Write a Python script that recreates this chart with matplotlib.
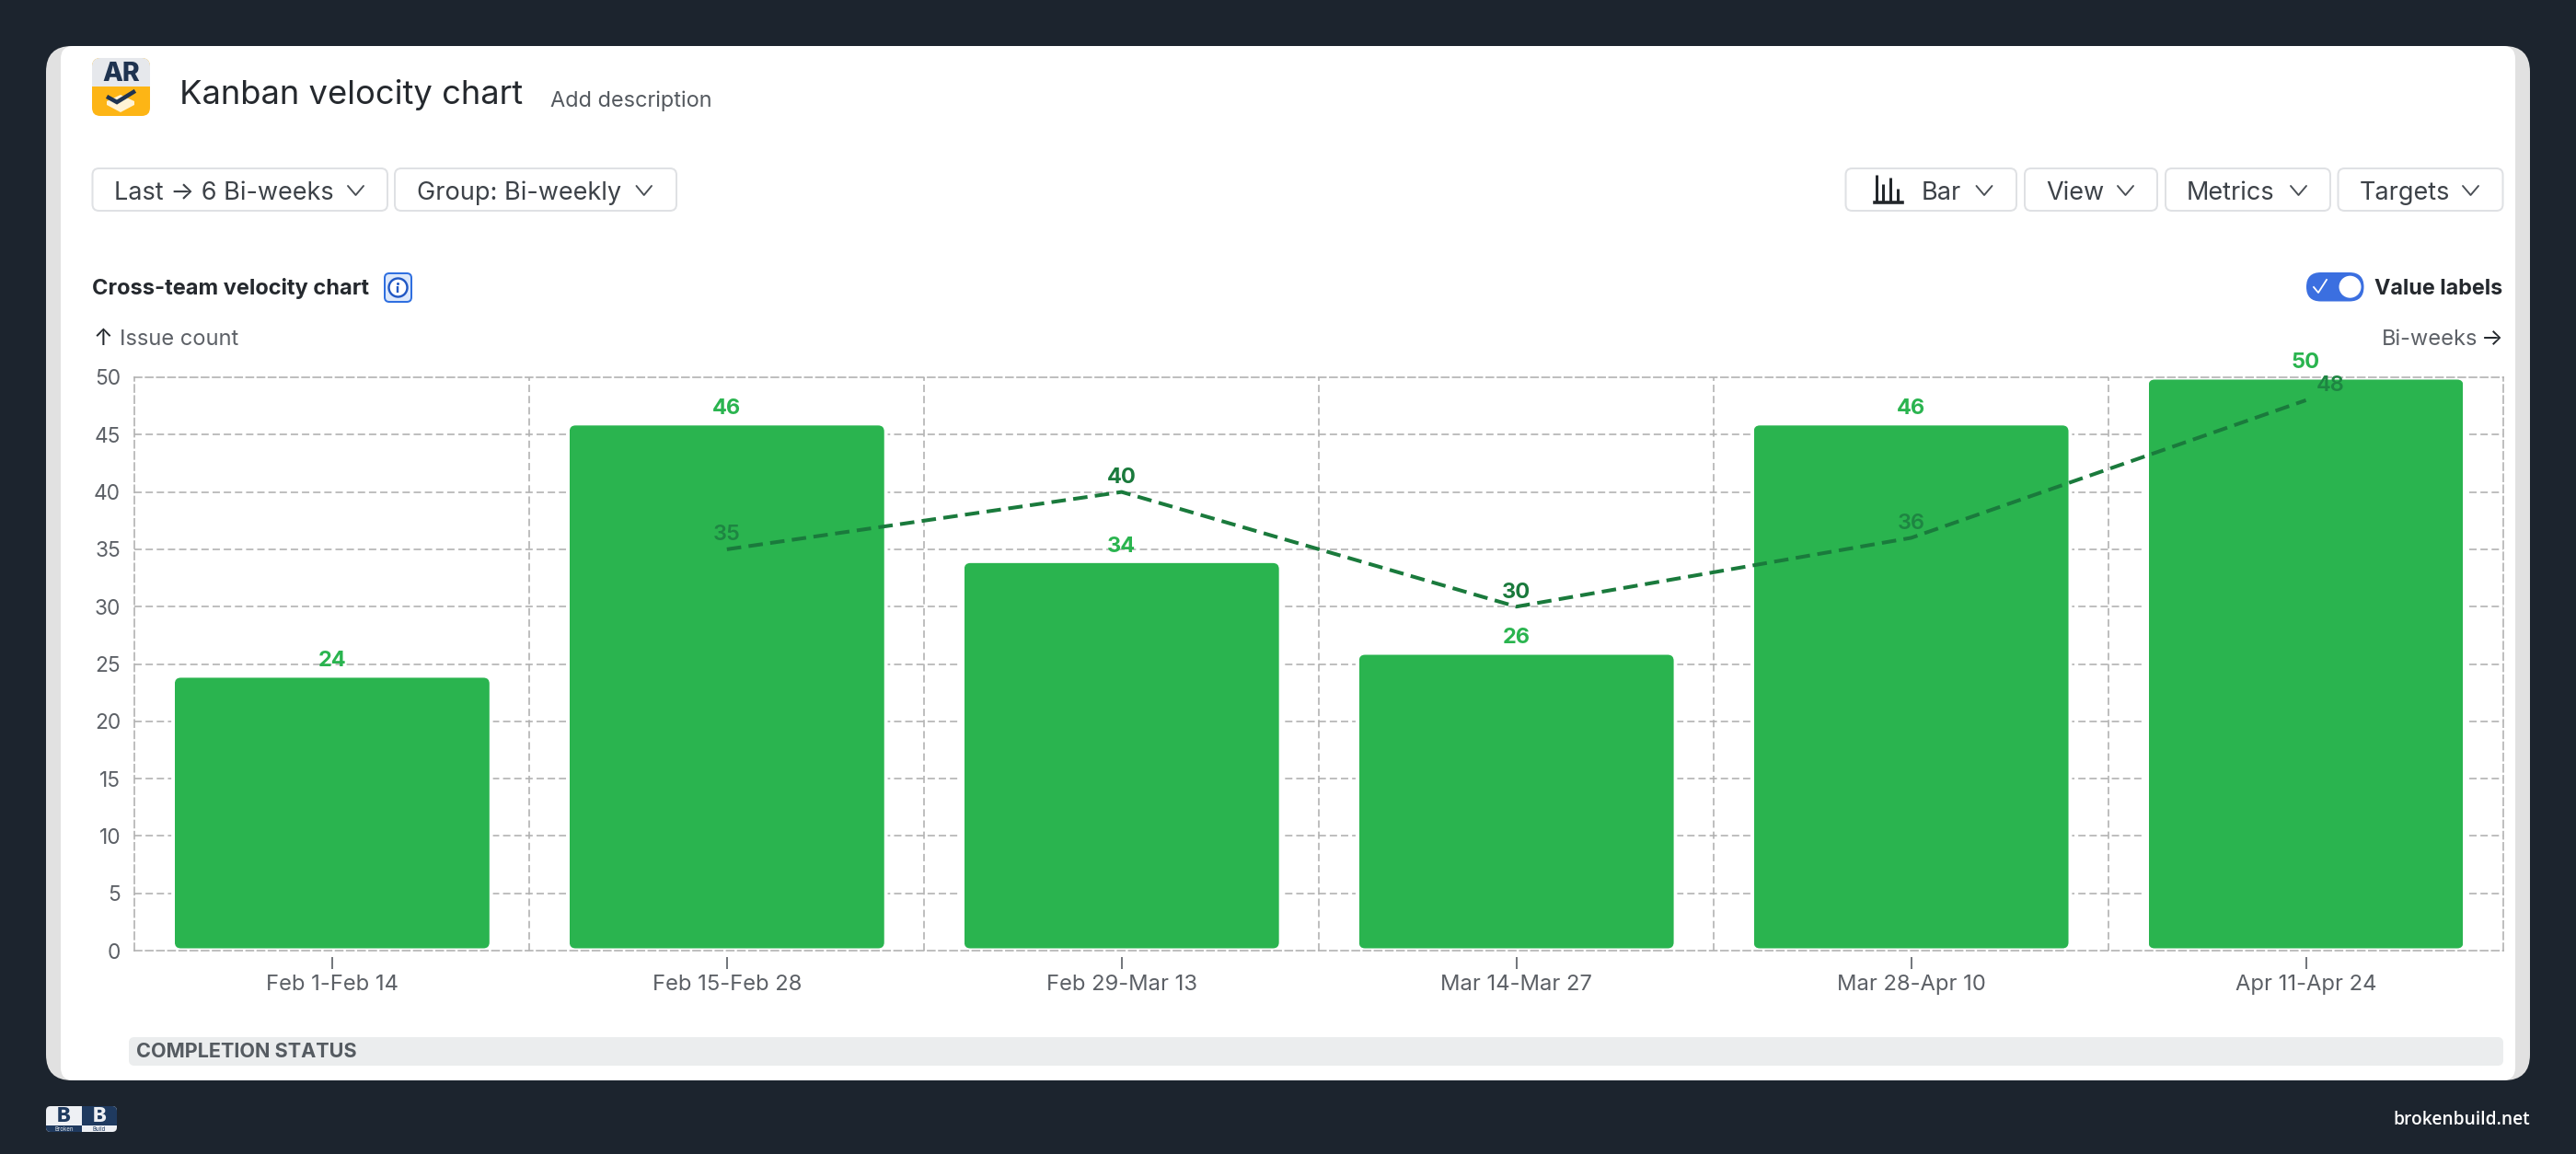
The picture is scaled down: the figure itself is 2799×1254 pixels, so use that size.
import numpy as np
import matplotlib
matplotlib.use("Agg")
import matplotlib.pyplot as plt
from matplotlib.patches import FancyBboxPatch, Rectangle, Circle, Polygon
from matplotlib.path import Path

plt.rcParams['font.family'] = ['Inter', 'DejaVu Sans']

# ---- data ----
categories = ["Feb 1-Feb 14", "Feb 15-Feb 28", "Feb 29-Mar 13", "Mar 14-Mar 27", "Mar 28-Apr 10", "Apr 11-Apr 24"]
completed = [24, 46, 34, 26, 46, 50]
trend = [np.nan, 35, 40, 30, 36, 48]
y_ticks = [0, 5, 10, 15, 20, 25, 30, 35, 40, 45, 50]

title = "Kanban velocity chart"
description = "Add description"
chart_title = "Cross-team velocity chart"
y_axis_name = "Issue count"
x_axis_name = "Bi-weeks"
toggle_label = "Value labels"
section_label = "COMPLETION STATUS"
site = "brokenbuild.net"
left_buttons = ["Last → 6 Bi-weeks", "Group: Bi-weekly"]
right_buttons = ["Bar", "View", "Metrics", "Targets"]

# ---- colours ----
BG = "#1c242e"; GREEN = "#2ab44f"; DARK = "#1a7a3c"; GRID = "#b0b0b0"
TXT = "#3d4248"; MUTED = "#5c6066"; NAVY = "#1f3350"

W, H = 2799, 1254
PT = 72 / 100  # points per pixel
fig = plt.figure(figsize=(W / 100, H / 100), dpi=100, facecolor=BG)

# ---- page furniture, in pixel coordinates ----
ui = fig.add_axes([0, 0, 1, 1], zorder=0)
ui.set_xlim(0, W); ui.set_ylim(H, 0); ui.axis("off")

def rbox(x0, y0, x1, y1, r, fc, ec="none", lw=0, z=1):
    p = FancyBboxPatch((x0, y0), x1 - x0, y1 - y0, boxstyle=f"round,pad=0,rounding_size={r}",
                       fc=fc, ec=ec, lw=lw * PT, zorder=z)
    ui.add_patch(p)
    return p

def txt(x, y, s, size, color=TXT, weight="normal", ha="left", family=None, z=5):
    return ui.text(x, y, s, fontsize=size, color=color, fontweight=weight, ha=ha, va="baseline",
                   family=family if family else ['Inter', 'DejaVu Sans'], zorder=z)

def chevron(x0, x1, yc=207, color="#4a4f55"):
    ui.plot([x0 + 1, (x0 + x1) / 2, x1 - 1], [yc - 5, yc + 5, yc - 5], color=color, lw=1.9 * PT, zorder=5,
            solid_capstyle="round")

rbox(50, 50, 2749, 1174, 28, "#e1e1e1")
rbox(66, 50, 2733, 1174, 14, "#ffffff", z=1.5)
ui.add_patch(Rectangle((100, 50), 2600, 60, fc="white", ec="none", zorder=1.6))

# product logo
logo = rbox(100, 63, 163, 126, 9, "#fdb515", z=2)
top = Rectangle((100, 63), 63, 31, fc="#e6e8ec", ec="none", zorder=2.1)
ui.add_patch(top); top.set_clip_path(logo)
txt(131.5, 88, "AR", 20.5, NAVY, "heavy", "center")
ui.add_patch(Polygon([(116, 110), (131, 103), (146, 110), (146, 114), (131, 122), (116, 114)],
                     fc="#fff3d6", ec="none", zorder=3))
ui.plot([118, 127, 145], [106, 111, 100], color=NAVY, lw=4.5 * PT, zorder=4, solid_joinstyle="miter")

txt(195, 113, title, 26.2, "#25292e")
txt(598, 116, description, 16.9, "#54595f")

# toolbar
for (x0, x1), label, tx, ch in zip([(100.5, 421), (429, 735)], left_buttons, [124.5, 453.5], [(377, 396), (690.5, 709)]):
    rbox(x0, 183, x1, 229, 7, "white", "#dfe1e4", 2, z=2)
    txt(tx, 217, label, 19.5)
    chevron(*ch)
for (x0, x1), label, tx, ch in zip([(2005.5, 2191), (2200, 2344), (2353, 2532), (2540.5, 2719.5)], right_buttons,
                                   [2088, 2223, 2376, 2564],
                                   [(2146.5, 2165.5), (2300, 2319), (2488, 2507), (2675, 2694)]):
    rbox(x0, 183, x1, 229, 7, "white", "#dfe1e4", 2, z=2)
    txt(tx, 217, label, 19.5)
    chevron(*ch)
# bar-type icon
for ix, iy in zip([2039, 2046, 2054, 2062], [190, 200, 193, 205]):
    ui.plot([ix, ix], [iy, 220], color="#23272b", lw=3 * PT, zorder=5, solid_capstyle="butt")
ui.plot([2037, 2067], [220, 220], color="#23272b", lw=3.6 * PT, zorder=5)

# chart heading
txt(100, 320, chart_title, 17, "#25292e", "bold")
rbox(418, 297, 447, 328, 5, "#dce8fb", "#2f6fe0", 2, z=2)
ui.add_patch(Circle((432.5, 312.5), 10, fc="white", ec="#2158c4", lw=2.4 * PT, zorder=3))
ui.plot([432.5, 432.5], [311, 318], color="#2158c4", lw=2.4 * PT, zorder=4, solid_capstyle="butt")
ui.plot([432.5], [307.5], "o", color="#2158c4", ms=2.2, mew=0, zorder=4)

# toggle
rbox(2506, 296, 2568.5, 327.5, 15.7, "#3b6fe0", z=2)
ui.add_patch(Circle((2553.5, 311.7), 12, fc="white", ec="none", zorder=3))
ui.plot([2514, 2519, 2528], [312, 318, 304], color="white", lw=1.8 * PT, zorder=3)
txt(2719.5, 320, toggle_label, 16.8, "#25292e", "bold", "right")

txt(102, 375, "↑", 18, "#25292e")
txt(130, 375, y_axis_name, 17, MUTED)
txt(2719.5, 375, "→", 18, "#25292e", ha="right")
txt(2692, 375, x_axis_name, 17, MUTED, ha="right")

# section header below the chart
rbox(140, 1127, 2720, 1158, 6, "#ebedee", z=2)
txt(148, 1149, section_label, 15.6, "#555b61", "bold")

# footer
brand = rbox(50, 1202, 127, 1230, 5, "#eef0f4", z=2)
for x, y, w, h in [(88.7, 1202, 39, 21), (50, 1222.5, 38.7, 8)]:
    r = Rectangle((x, y), w, h, fc="#1f3a5f", ec="none", zorder=2.1)
    ui.add_patch(r); r.set_clip_path(brand)
txt(69.5, 1219, "B", 16, "#1f3a5f", "heavy", "center")
txt(108, 1219, "B", 16, "#eef0f4", "heavy", "center")
txt(69.5, 1229, "Broken", 4.4, "#dfe4ea", ha="center")
txt(108, 1229, "Build", 4.4, "#1f3a5f", ha="center")
txt(2749, 1222, site, 13.8, "white", "semibold", "right", family=["Open Sans", "DejaVu Sans"])

# ---- the chart ----
PL, PR, PT_, PB = 146.4, 2720, 410, 1033
ax = fig.add_axes([PL / W, 1 - PB / H, (PR - PL) / W, (PB - PT_) / H], zorder=2)
ax.patch.set_alpha(0)
x = np.arange(len(categories))
ax.set_xlim(-0.5, 5.5); ax.set_ylim(0, 50)
px_x = (PR - PL) / 6; px_y = (PB - PT_) / 50

grid_style = dict(color=GRID, lw=1.15, linestyle=(0, (5, 2.6)))
ax.set_yticks(y_ticks)
ax.set_xticks(x, categories)
ax.set_xticks(x[:-1] + 0.5, minor=True)
ax.grid(True, axis="y", which="major", zorder=1, **grid_style)
ax.grid(True, axis="x", which="minor", zorder=1, **grid_style)
ax.grid(False, axis="x", which="major")
ax.set_axisbelow(True)
for s in ax.spines.values():
    s.set_color(GRID); s.set_linewidth(1.15); s.set_linestyle((0, (5, 2.6)))
ax.tick_params(axis="y", length=0, pad=11, labelsize=16.3, labelcolor=MUTED)
ax.tick_params(axis="x", which="minor", length=0)
ax.tick_params(axis="x", which="major", pad=15, labelsize=17.1, labelcolor=MUTED)
for t in ax.xaxis.get_major_ticks():
    t.tick1line.set_marker(Path([[0, -0.35], [0, -1]]))
    t.tick1line.set_markersize(28.8)
    t.tick1line.set_markeredgewidth(1.3)
    t.tick1line.set_markeredgecolor("#666a70")
y_major = ax.yaxis.get_major_ticks()
y_major[0].gridline.set_visible(False)
y_major[-1].gridline.set_visible(False)

bars = ax.bar(x, completed, width=0.797, color=GREEN, linewidth=0, zorder=3)
inset = 0.2
for b in bars:
    shape = FancyBboxPatch((b.get_x(), inset), b.get_width(), b.get_height() - 2 * inset,
                           boxstyle=f"round,pad=0,rounding_size={6.5 / px_x}",
                           mutation_aspect=px_x / px_y, fc="none", ec="white", lw=5.5, zorder=2.5,
                           transform=ax.transData)
    ax.add_patch(shape)
    b.set_clip_path(shape)

ax.plot(x, trend, color=DARK, lw=2.9, linestyle=(0, (3.9, 2.0)), zorder=4, clip_on=False,
        dash_joinstyle="round")

for xi, v in zip(x, completed):
    ax.annotate(str(v), (xi, v), xytext=(0, 11.2), textcoords="offset points", ha="center", va="center",
                color=GREEN, fontsize=17, fontweight="bold", zorder=5, annotation_clip=False)
for xi, v in zip(x, trend):
    if np.isnan(v):
        continue
    on_bar = v < completed[int(xi)]
    dx = 19 if xi == x[-1] else 0
    ax.annotate(str(v), (xi, v), xytext=(dx, 11.2), textcoords="offset points", ha="center", va="center",
                color="#1e8542" if on_bar else DARK, fontsize=17, fontweight="semibold" if on_bar else "bold",
                zorder=5, annotation_clip=False)

fig.savefig("out.png", dpi=100, facecolor=BG)
